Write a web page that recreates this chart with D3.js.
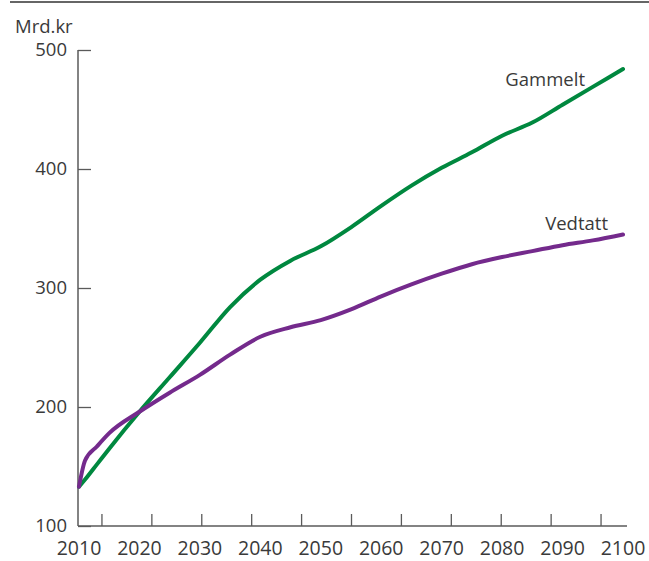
<!DOCTYPE html>
<html><head><meta charset="utf-8">
<script src="https://cdn.jsdelivr.net/npm/d3@7"></script>
<style>
html,body{margin:0;padding:0;background:#fff;}
svg{display:block;font-family:"Open Sans","Noto Sans",sans-serif;}
</style></head>
<body>
<svg id="c" width="649" height="561"></svg>
<script>
const years = [2010, 2011, 2013, 2015, 2020, 2025, 2030, 2035, 2040, 2045, 2050, 2055, 2060, 2065, 2070, 2075, 2080, 2085, 2090, 2095, 2100];
const gammelt = [133, 139, 152, 165, 196, 225, 254, 284, 307, 323, 335, 351, 369, 386, 401, 414, 428, 439, 454, 469, 484];
const vedtatt = [133, 155, 167, 178, 196, 212, 227, 244, 259, 267, 273, 282, 293, 303, 312, 320, 326, 331, 336, 340, 345];
const seriesNames = ["Gammelt", "Vedtatt"];
const xLabels = [2010, 2020, 2030, 2040, 2050, 2060, 2070, 2080, 2090, 2100];
const xTickSlots = [0, 1, 2, 3, 4, 5, 6, 7, 8, 9, 10];
const yTicks = [100, 200, 300, 400, 500];
const yUnit = "Mrd.kr";

const svg = d3.select("#c");
const axisColor = "#5a5a5a", textColor = "#3a3a3a";
const x = d3.scaleLinear().domain([2010, 2100]).range([79, 623]);
const y = d3.scaleLinear().domain([100, 500]).range([526, 50]);
const axisLeft = 78, axisRight = 627;
const slot = d3.scaleBand().domain(xTickSlots).range([axisLeft, axisRight]);

// top rule
svg.append("line").attr("x1", 10).attr("x2", 649).attr("y1", 2).attr("y2", 2)
  .attr("stroke", "#333").attr("stroke-width", 1.3);

// unit label
svg.append("text").attr("x", 15).attr("y", 33).attr("font-size", 18.5)
  .attr("fill", textColor).text(yUnit);

// y axis
const gy = svg.append("g").attr("transform", `translate(${axisLeft},0)`)
  .call(d3.axisRight(y).tickValues(yTicks).tickSize(13).tickFormat(""));
gy.select(".domain").remove();
gy.selectAll("line").attr("stroke", axisColor).attr("stroke-width", 1.3);
svg.append("line").attr("x1", axisLeft).attr("x2", axisLeft).attr("y1", y(500)).attr("y2", y(100))
  .attr("stroke", axisColor).attr("stroke-width", 1.5);
svg.selectAll(".ylab").data(yTicks).join("text").attr("class", "ylab")
  .attr("x", 67).attr("y", d => y(d)).attr("dy", "0.35em").attr("text-anchor", "end")
  .attr("font-size", 18.5).attr("fill", textColor).text(d => d);

// x axis
svg.append("line").attr("x1", axisLeft).attr("x2", axisRight).attr("y1", y(100)).attr("y2", y(100))
  .attr("stroke", axisColor).attr("stroke-width", 1.5);
svg.selectAll(".xtick").data(xTickSlots).join("line").attr("class", "xtick")
  .attr("x1", d => slot(d) + slot.bandwidth() / 2 - 1).attr("x2", d => slot(d) + slot.bandwidth() / 2 - 1)
  .attr("y1", y(100)).attr("y2", y(100) - 12)
  .attr("stroke", axisColor).attr("stroke-width", 1.3);
svg.selectAll(".xlab").data(xLabels).join("text").attr("class", "xlab")
  .attr("x", d => x(d)).attr("y", 555).attr("text-anchor", "middle")
  .attr("font-size", 19.5).attr("fill", textColor).text(d => d);

// lines
const line = d3.line().x((d, i) => x(years[i])).y(d => y(d)).curve(d3.curveMonotoneX);
const colors = ["#00883f", "#742a8c"];
[gammelt, vedtatt].forEach((s, k) => {
  svg.append("path").datum(s).attr("d", line).attr("fill", "none")
    .attr("stroke", colors[k]).attr("stroke-width", 4).attr("stroke-linecap", "round").attr("stroke-linejoin", "round");
});

// series labels
svg.append("text").attr("x", 585).attr("y", 86).attr("text-anchor", "end")
  .attr("font-size", 18.5).attr("fill", textColor).text(seriesNames[0]);
svg.append("text").attr("x", 608).attr("y", 230).attr("text-anchor", "end")
  .attr("font-size", 18.5).attr("fill", textColor).text(seriesNames[1]);
</script>
</body></html>
